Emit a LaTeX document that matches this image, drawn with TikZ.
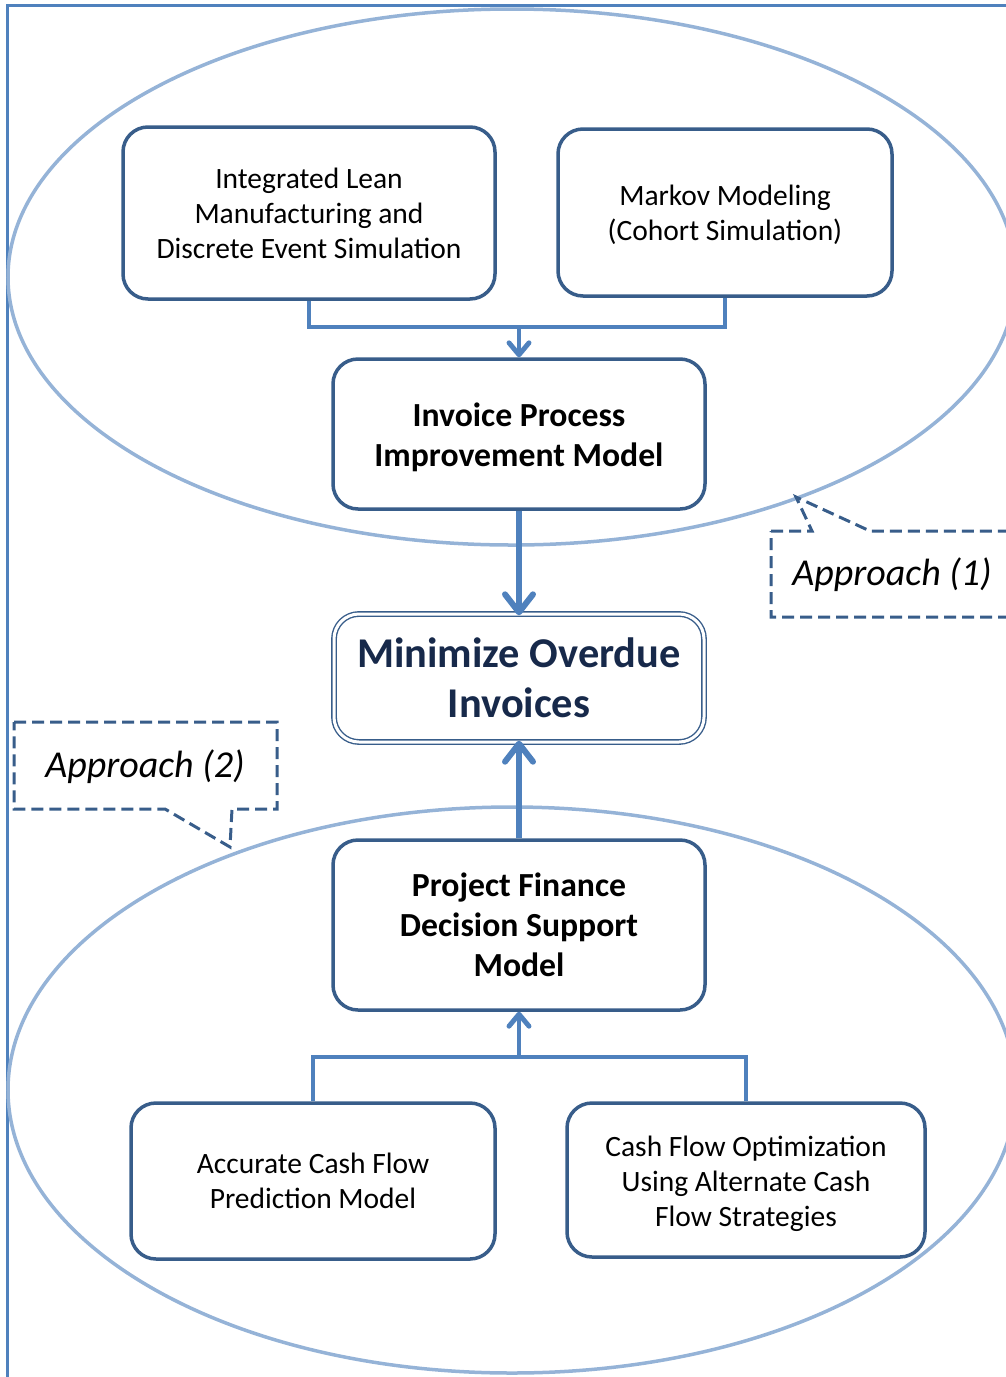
\documentclass[tikz,border=0pt]{standalone}
\usepackage{fontspec}
\setmainfont{Carlito}
\usetikzlibrary{arrows.meta}
\definecolor{frameblue}{HTML}{4F81BD}
\definecolor{ringblue}{HTML}{95B3D7}
\definecolor{boxedge}{HTML}{385D8A}
\definecolor{goalink}{HTML}{17294A}
% lower a centred block of lines without changing the box it occupies
\newcommand{\lowered}[2]{\raisebox{-#1}[\height][\depth]{\begin{tabular}{@{}c@{}}#2\end{tabular}}}
\begin{document}
\begin{tikzpicture}[x=1pt,y=-1pt,
  ring/.style={draw=ringblue,line width=3.5pt},
  modelbox/.style={draw=boxedge,line width=3.5pt,fill=white,rounded corners=25pt,
    align=center,inner sep=0pt,text=black},
  plain/.style={font={\fontsize{29.5}{35}\selectfont}},
  strong/.style={font={\fontsize{33.7}{40}\selectfont\bfseries}},
  link/.style={draw=frameblue,line width=3.5pt},
  linkarrow/.style={link,-{Straight Barb[length=12pt,width=20pt,line width=0pt 1.4,round]}},
  mainarrow/.style={draw=frameblue,line width=6pt,-{Straight Barb[length=18pt,width=28pt,round]}},
  callout/.style={draw=boxedge,line width=3pt,dash pattern=on 12pt off 6pt,fill=white},
  calltext/.style={font={\fontsize{38}{44}\selectfont\itshape},text=black}
]
\useasboundingbox (0,0) rectangle (1006,1377);

% page frame
\draw[frameblue,line width=3pt] (7,1380) -- (7,5) -- (1010,5);

% the two approach rings
\draw[ring] (512,277) ellipse [x radius=504,y radius=268];
\draw[ring] (512,1090) ellipse [x radius=504,y radius=283];

% approach (1) boxes
\node[modelbox,plain,minimum width=372pt,minimum height=172pt] (lean) at (309,213)
  {Integrated Lean\\Manufacturing and\\Discrete Event Simulation};
\node[modelbox,plain,minimum width=334pt,minimum height=167pt] (markov) at (725,212.5)
  {\lowered{3.5pt}{Markov Modeling\\(Cohort Simulation)}};
\node[modelbox,strong,minimum width=372pt,minimum height=150pt] (invoice) at (519,434)
  {\lowered{4pt}{Invoice Process\\Improvement Model}};

% goal
\node[draw=boxedge,double=white,double distance=3pt,line width=1.4pt,rounded corners=25pt,
  fill=white,align=center,inner sep=0pt,text=goalink,
  minimum width=370pt,minimum height=128pt,
  font={\fontsize{42.4}{50}\selectfont\bfseries}] (goal) at (519,678)
  {Minimize Overdue\\Invoices};

% approach (2) boxes
\node[modelbox,strong,minimum width=372pt,minimum height=170pt] (finance) at (519,925)
  {Project Finance\\Decision Support\\Model};
\node[modelbox,plain,minimum width=364pt,minimum height=156pt] (predict) at (313,1181)
  {Accurate Cash Flow\\Prediction Model};
\node[modelbox,plain,minimum width=358pt,minimum height=154pt] (optim) at (746,1180)
  {\lowered{4pt}{Cash Flow Optimization\\Using Alternate Cash\\Flow Strategies}};

% connectors
\coordinate (topjoin) at (519,327);
\coordinate (botjoin) at (519,1057);
\draw[link] (lean.south) |- (topjoin);
\draw[link] (markov.south) |- (topjoin);
\draw[linkarrow] (topjoin) -- (invoice.north);
\draw[link] (predict.north) |- (botjoin);
\draw[link] (optim.north) |- (botjoin);
\draw[linkarrow] (botjoin) -- (finance.south);
\draw[mainarrow] (invoice.south) -- ([yshift=-2pt]goal.north);
\draw[mainarrow] (finance.north) -- ([yshift=2pt]goal.south);

% callouts
\draw[callout] (771,531) -- (812,531) -- (796,497) -- (870,531) -- (1015,531)
  -- (1015,617) -- (771,617) -- cycle;
\node[calltext] (appone) at (892,575) {Approach (1)};
\draw[callout] (14,722) -- (277,722) -- (277,809) -- (232,809) -- (230,847)
  -- (165,809) -- (14,809) -- cycle;
\node[calltext] (apptwo) at (145,767) {Approach (2)};
\end{tikzpicture}
\end{document}
